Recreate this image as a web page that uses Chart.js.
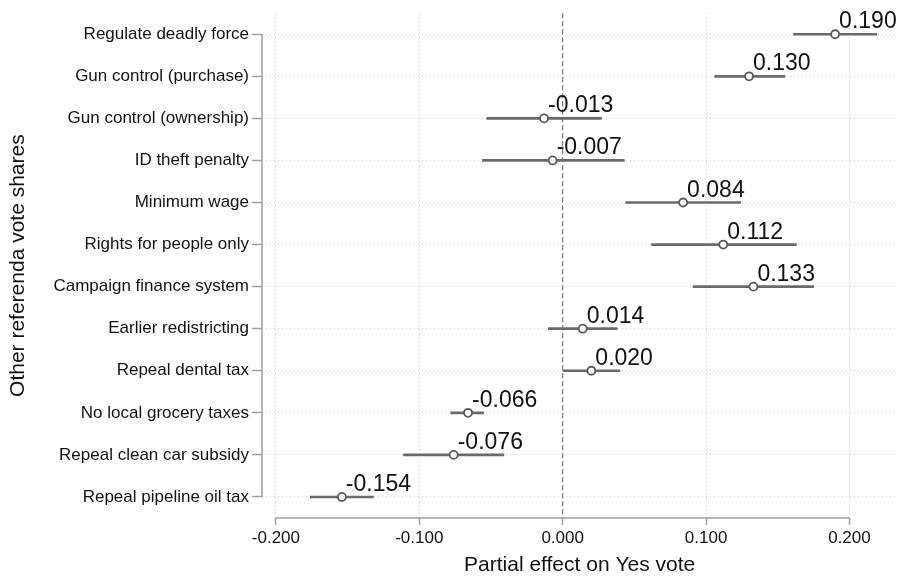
<!DOCTYPE html>
<html>
<head>
<meta charset="utf-8">
<script src="https://cdn.jsdelivr.net/npm/chart.js@4"></script>
<style>
    html, body { margin: 0; padding: 0; background: #ffffff; }
    #wrap { width: 903px; height: 578px; }
</style>
</head>
<body>
<div id="wrap"><canvas id="efectosChart" width="903" height="578"></canvas></div>
<script>
// --- Datos ---
const referendos = [
    'Regulate deadly force',
    'Gun control (purchase)',
    'Gun control (ownership)',
    'ID theft penalty',
    'Minimum wage',
    'Rights for people only',
    'Campaign finance system',
    'Earlier redistricting',
    'Repeal dental tax',
    'No local grocery taxes',
    'Repeal clean car subsidy',
    'Repeal pipeline oil tax'
];
const efectos = [0.190, 0.130, -0.013, -0.007, 0.084, 0.112, 0.133, 0.014, 0.020, -0.066, -0.076, -0.154];
const limiteInferior = [0.161, 0.106, -0.053, -0.056, 0.044, 0.062, 0.091, -0.010, 0.000, -0.078, -0.111, -0.176];
const limiteSuperior = [0.219, 0.155, 0.027, 0.043, 0.124, 0.163, 0.175, 0.038, 0.040, -0.055, -0.041, -0.132];
const ticksX = [-0.2, -0.1, 0, 0.1, 0.2];

const fuente = "'Liberation Sans', Arial, sans-serif";
const grisEje = '#a0a0a0';
const grisPunteado = '#c8c8c8';

document.addEventListener('DOMContentLoaded', function () {

    // Línea vertical discontinua en cero
    const lineaCero = {
        id: 'lineaCero',
        beforeDatasetsDraw(chart) {
            const { ctx, chartArea, scales } = chart;
            const x = scales.x.getPixelForValue(0);
            ctx.save();
            ctx.strokeStyle = '#7a7a7a';
            ctx.lineWidth = 1.2;
            ctx.setLineDash([5, 3]);
            ctx.beginPath();
            ctx.moveTo(x, chartArea.top);
            ctx.lineTo(x, chartArea.bottom);
            ctx.stroke();
            ctx.restore();
        }
    };

    // Ejes: sólo entre el primer y último tick
    const ejes = {
        id: 'ejes',
        afterDraw(chart) {
            const { ctx, chartArea, scales } = chart;
            const y0 = scales.y.getPixelForValue(0);
            const y1 = scales.y.getPixelForValue(referendos.length - 1);
            const x0 = scales.x.getPixelForValue(ticksX[0]);
            const x1 = scales.x.getPixelForValue(ticksX[ticksX.length - 1]);
            ctx.save();
            ctx.strokeStyle = grisEje;
            ctx.lineWidth = 1.5;
            ctx.beginPath();
            ctx.moveTo(chartArea.left, y0);
            ctx.lineTo(chartArea.left, y1);
            ctx.moveTo(x0, chartArea.bottom);
            ctx.lineTo(x1, chartArea.bottom);
            ctx.stroke();
            ctx.restore();
        }
    };

    // Etiquetas con el valor de cada efecto
    const etiquetas = {
        id: 'etiquetas',
        afterDatasetsDraw(chart) {
            const { ctx } = chart;
            const meta = chart.getDatasetMeta(0);
            ctx.save();
            ctx.font = '23px ' + fuente;
            ctx.fillStyle = '#111111';
            ctx.textAlign = 'left';
            ctx.textBaseline = 'alphabetic';
            meta.data.forEach((pt, i) => {
                ctx.fillText(efectos[i].toFixed(3), pt.x + 4, pt.y - 6);
            });
            ctx.restore();
        }
    };

    const ctx = document.getElementById('efectosChart').getContext('2d');
    new Chart(ctx, {
        type: 'bar',
        data: {
            labels: referendos,
            datasets: [
                {
                    type: 'line',
                    label: 'Efecto',
                    data: efectos,
                    indexAxis: 'y',
                    showLine: false,
                    pointStyle: 'circle',
                    pointRadius: 4,
                    pointBorderWidth: 1.8,
                    pointBorderColor: '#5a5a5a',
                    pointBackgroundColor: '#ffffff',
                    order: 0
                },
                {
                    label: 'IC',
                    data: limiteInferior.map((lo, i) => [lo, limiteSuperior[i]]),
                    indexAxis: 'y',
                    backgroundColor: '#6a6a6a',
                    borderWidth: 0,
                    barThickness: 2,
                    order: 1
                }
            ]
        },
        options: {
            responsive: false,
            animation: false,
            indexAxis: 'y',
            layout: { padding: { top: 11, right: 3, bottom: 0, left: 0 } },
            plugins: {
                legend: { display: false },
                tooltip: { enabled: false }
            },
            scales: {
                x: {
                    type: 'linear',
                    min: -0.2097,
                    max: 0.2333,
                    afterBuildTicks(scale) {
                        scale.ticks = ticksX.map(v => ({ value: v }));
                    },
                    afterFit(scale) {
                        scale.height = 60;
                    },
                    ticks: {
                        color: '#111111',
                        padding: 3,
                        maxRotation: 0,
                        font: { size: 17, family: fuente },
                        callback: v => v.toFixed(3)
                    },
                    grid: {
                        color: grisPunteado,
                        lineWidth: 1,
                        tickLength: 7,
                        tickColor: grisEje,
                        tickWidth: 1.5,
                        tickBorderDash: []
                    },
                    // en v4 el punteado de la rejilla sale de border.dash
                    border: { display: false, dash: [1, 3] },
                    title: {
                        display: true,
                        text: 'Partial effect on Yes vote',
                        color: '#111111',
                        font: { size: 21, family: fuente },
                        padding: { top: 0, bottom: 0 }
                    }
                },
                y: {
                    type: 'category',
                    offset: true,
                    afterFit(scale) {
                        scale.width = 262;
                    },
                    ticks: {
                        color: '#111111',
                        padding: 3,
                        font: { size: 17, family: fuente }
                    },
                    grid: {
                        offset: false,
                        color: grisPunteado,
                        lineWidth: 1,
                        tickLength: 10,
                        tickColor: grisEje,
                        tickWidth: 1.5,
                        tickBorderDash: []
                    },
                    border: { display: false, dash: [1, 3] },
                    title: {
                        display: true,
                        text: 'Other referenda vote shares',
                        color: '#111111',
                        font: { size: 21, family: fuente },
                        padding: { top: 6, bottom: 0 }
                    }
                }
            }
        },
        plugins: [lineaCero, ejes, etiquetas]
    });
});
</script>
</body>
</html>
